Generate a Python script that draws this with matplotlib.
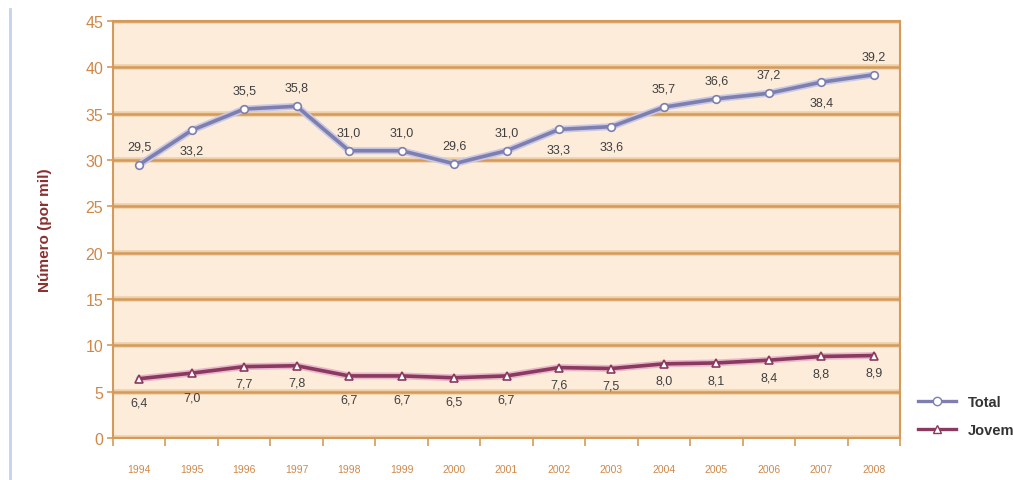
import matplotlib
matplotlib.use("Agg")
import matplotlib.pyplot as plt
from matplotlib.lines import Line2D

plt.rcParams['font.family'] = ['Liberation Sans Narrow', 'Liberation Sans', 'DejaVu Sans']

years = ["1994", "1995", "1996", "1997", "1998", "1999", "2000", "2001",
         "2002", "2003", "2004", "2005", "2006", "2007", "2008"]
total = [29.5, 33.2, 35.5, 35.8, 31.0, 31.0, 29.6, 31.0,
         33.3, 33.6, 35.7, 36.6, 37.2, 38.4, 39.2]
jovem = [6.4, 7.0, 7.7, 7.8, 6.7, 6.7, 6.5, 6.7,
         7.6, 7.5, 8.0, 8.1, 8.4, 8.8, 8.9]
y_ticks = [0, 5, 10, 15, 20, 25, 30, 35, 40, 45]

# label placement: +1 above the point, -1 below
total_side = [1, -1, 1, 1, 1, 1, 1, 1, -1, -1, 1, 1, 1, -1, 1]
jovem_drop = [1, 1, 0, 0, 1, 1, 1, 1, 0, 0, 0, 0, 0, 0, 0]

c_total = '#7e7fae'
c_jovem = '#8a3a5e'
c_grid = '#d49a5c'
c_tick = '#cf8848'
c_bg = '#fcecd9'

fig = plt.figure(figsize=(10.13, 4.81), dpi=100)
ax = fig.add_axes([113 / 1013, 42 / 481, 787 / 1013, 417 / 481])
ax.set_facecolor(c_bg)

x = list(range(len(years)))
ax.set_xlim(-0.5, 14.5)
ax.set_ylim(0, 45)

for v in y_ticks:
    ax.axhline(v, color='#f0cfa6', lw=4.0, zorder=1)
    ax.axhline(v, color=c_grid, lw=1.8, zorder=1.1)

ax.plot(x, total, color='#c9c8e6', lw=5.0, zorder=2, solid_capstyle='round')
ax.plot(x, total, color=c_total, lw=2.6, marker='o', ms=5.5,
        mfc='white', mec=c_total, mew=1.2, zorder=3)
ax.plot(x, jovem, color='#e9b7cc', lw=5.0, zorder=2, solid_capstyle='round')
ax.plot(x, jovem, color=c_jovem, lw=2.6, marker='^', ms=5.5,
        mfc='white', mec=c_jovem, mew=1.2, zorder=3)

lab_kw = dict(ha='center', fontsize=9, color='#404040', zorder=4)
for xi, v, s in zip(x, total, total_side):
    off = 9 if s > 0 else -10
    ax.annotate(f"{v:.1f}".replace('.', ','), (xi, v), xytext=(0, off),
                textcoords='offset points',
                va='bottom' if s > 0 else 'top', **lab_kw)
for xi, v, d in zip(x, jovem, jovem_drop):
    off = -13 if d else -8
    ax.annotate(f"{v:.1f}".replace('.', ','), (xi, v), xytext=(0, off),
                textcoords='offset points', va='top', **lab_kw)

ax.set_yticks(y_ticks)
ax.set_yticklabels([str(v) for v in y_ticks], fontsize=11.5, color=c_tick)
ax.set_xticks(x)
ax.set_xticklabels(years, fontsize=7.5, color=c_tick)
ax.set_xticks([i + 0.5 for i in range(-1, 15)], minor=True)
ax.tick_params(axis='x', which='major', length=0, pad=19)
ax.tick_params(axis='x', which='minor', length=6, width=1.2, color=c_grid)
ax.tick_params(axis='y', length=4, width=1.2, color=c_grid, pad=3)

for sp in ax.spines.values():
    sp.set_color(c_grid)
    sp.set_linewidth(1.5)

ax.set_ylabel("Número (por mil)", fontsize=11, fontweight='bold',
              color='#8c2f2f', labelpad=24)

handles = [
    Line2D([], [], color=c_total, lw=2.4, marker='o', ms=6, mfc='white', mec=c_total),
    Line2D([], [], color=c_jovem, lw=2.4, marker='^', ms=6, mfc='white', mec=c_jovem),
]
fig.legend(handles, ["Total", "Jovem"], loc='center left',
           bbox_to_anchor=(905 / 1013, 1 - 417 / 481), frameon=False,
           handlelength=2.6, labelspacing=1.0,
           labelcolor='#333333', prop={'weight': 'bold', 'size': 10.5})

# thin blue rule at the left edge of the page
fig.add_artist(Line2D([10 / 1013, 10 / 1013], [0, 1 - 10 / 481],
                      color='#c3d3ea', lw=2, transform=fig.transFigure))

fig.savefig("out.png", dpi=100, facecolor='white')
